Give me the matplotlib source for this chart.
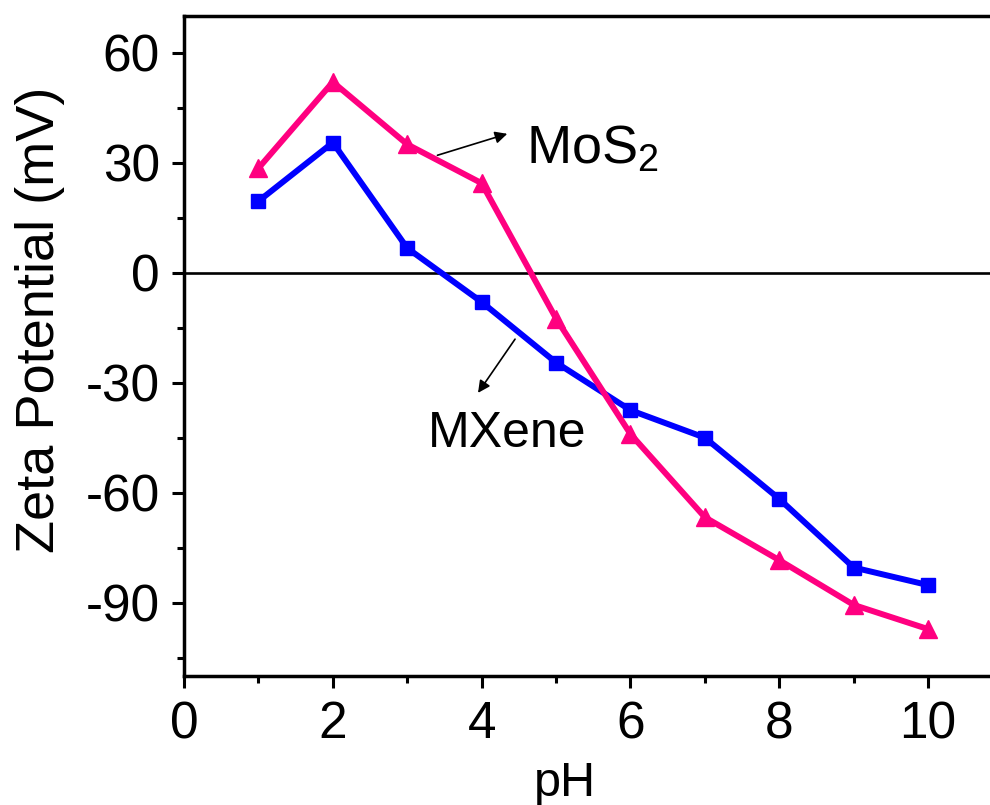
import matplotlib
matplotlib.use("Agg")
import matplotlib.pyplot as plt
from matplotlib.ticker import MultipleLocator

plt.rcParams['font.family'] = ['Liberation Sans', 'DejaVu Sans']
plt.rcParams['mathtext.fontset'] = 'custom'
plt.rcParams['mathtext.rm'] = 'Liberation Sans'
plt.rcParams['axes.unicode_minus'] = False

# Zeta potential vs pH
ph = [1, 2, 3, 4, 5, 6, 7, 8, 9, 10]
mxene = [19.5, 35.5, 6.7, -8, -24.5, -37.5, -45, -61.7, -80.4, -85.2]
mos2 = [28.5, 52, 35, 24.4, -12.5, -44, -66.7, -78.4, -90.6, -97.2]

fig = plt.figure(figsize=(9.9, 8.05), dpi=100)
ax = fig.add_axes([0.1859, 0.1602, 0.8267, 0.8199])

ax.axhline(0, color='black', lw=1.9, zorder=1)

ax.plot(ph, mxene, color='#0000FF', lw=4.3, marker='s', ms=10.5, zorder=3)
ax.plot(ph, mos2, color='#FF0080', lw=4.3, marker='^', ms=12.5, zorder=4)

ax.set_xlim(0, 11)
ax.set_ylim(-110, 70)
ax.xaxis.set_major_locator(MultipleLocator(2))
ax.xaxis.set_minor_locator(MultipleLocator(1))
ax.yaxis.set_major_locator(MultipleLocator(30))
ax.yaxis.set_minor_locator(MultipleLocator(15))

ax.tick_params(which='both', direction='out', top=False, right=False, width=2.2)
ax.tick_params(which='major', length=8.3, pad=9, labelsize=37)
ax.tick_params(which='minor', length=5)
for s in ax.spines.values():
    s.set_linewidth(2.5)

ax.set_xlabel('pH', fontsize=35)
ax.xaxis.set_label_coords(0.4655, -0.129)
ax.set_ylabel('Zeta Potential (mV)', fontsize=39)
ax.yaxis.set_label_coords(-0.145, 0.539)

arrow = dict(arrowstyle='-|>', color='black', lw=1.2, mutation_scale=18)
ax.annotate('', xy=(4.38, 38.1), xytext=(3.37, 31.8), arrowprops=arrow)
ax.annotate('', xy=(3.93, -33.4), xytext=(4.47, -17.5), arrowprops=arrow)
ax.text(4.60, 29.9, r'MoS$_\mathregular{2}$', fontsize=39, ha='left', va='baseline')
ax.text(3.28, -47.5, 'MXene', fontsize=36, ha='left', va='baseline')

fig.savefig('out.png', dpi=100)
